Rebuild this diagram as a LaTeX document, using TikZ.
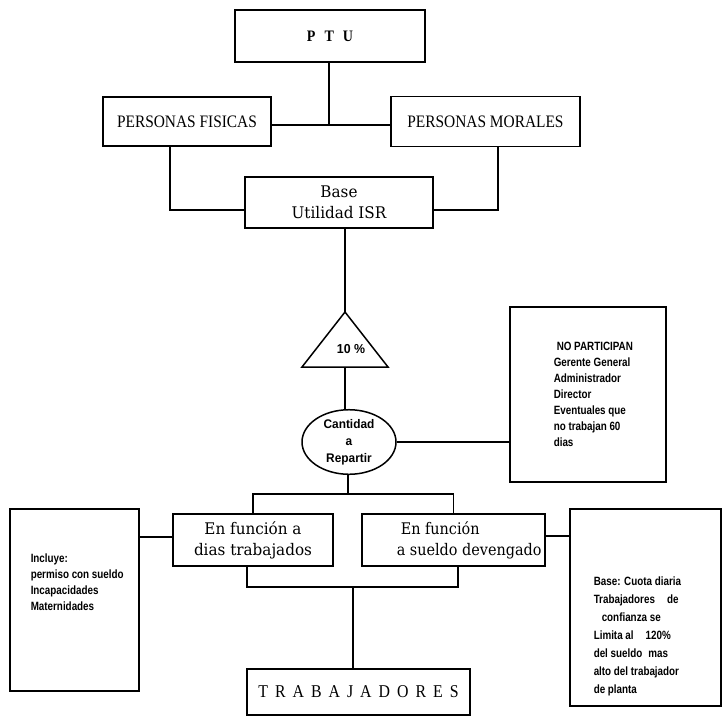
\documentclass[tikz,border=0pt]{standalone}
\usepackage{fontspec}
\setmainfont{Liberation Serif}
\newfontfamily\topf[FakeStretch=0.88]{Liberation Serif}
\newfontfamily\lowf[FakeStretch=0.95]{DejaVu Serif}
\newfontfamily\lowfn[FakeStretch=0.9]{DejaVu Serif}
\newfontfamily\smf[FakeStretch=0.82]{Liberation Sans}
\newfontfamily\elf[FakeStretch=0.95]{Liberation Sans}
\usetikzlibrary{shapes.geometric}
\begin{document}
\begin{tikzpicture}[x=1pt,y=-1pt,
  line width=1.5pt,
  box/.style={draw,rectangle,inner sep=0pt,align=center},
  small/.style={inner sep=0pt,align=left,anchor=north west,font=\smf\bfseries\fontsize{12}{16}\selectfont},
  smallb/.style={small,font=\smf\bfseries\fontsize{12}{18}\selectfont}]
\useasboundingbox (0,0) rectangle (722,718);
% top boxes
\node[box,minimum width=190pt,minimum height=52pt,font=\topf\bfseries\fontsize{16}{18}\selectfont] (PTU) at (330,36) {P\hspace{9pt}T\hspace{9pt}U};
\node[box,minimum width=168pt,minimum height=49pt,font=\topf\fontsize{17.5}{19}\selectfont] (PF) at (187,121.5) {PERSONAS FISICAS};
\node[box,minimum width=189pt,minimum height=50pt,font=\topf\fontsize{17.5}{19}\selectfont] (PM) at (485.5,121.5) {PERSONAS MORALES};
\node[box,minimum width=188pt,minimum height=51pt,font=\lowf\fontsize{16}{21}\selectfont] (Base) at (339,202.5) {Base\\Utilidad ISR};
% triangle
\coordinate (tA) at (345,312);
\coordinate (tL) at (302,367);
\coordinate (tR) at (388,367);
\coordinate (tB) at (345,367);
\draw (tA) -- (tL) -- (tR) -- cycle;
\node[font=\elf\bfseries\fontsize{13}{15}\selectfont,inner sep=0pt] (pct) at (351,349) {10 \%};
% ellipse
\node[draw,ellipse,minimum width=94pt,minimum height=58pt,inner sep=0pt,align=center,font=\elf\bfseries\fontsize{12.5}{17}\selectfont] (Cant) at (349,442) {Cantidad\\a\\Repartir};
% no participan
\node[box,minimum width=156pt,minimum height=175pt] (NOP) at (588,394.5) {};
\node[small] (NOPt) at (553,341) {\hspace{3pt}NO PARTICIPAN\\Gerente General\\Administrador\\Director\\Eventuales que\\no trabajan 60\\dias};
% lower boxes
\node[box,minimum width=160pt,minimum height=52pt,font=\lowf\fontsize{16}{21}\selectfont] (LF) at (253,540) {En función a\\dias trabajados};
\node[box,minimum width=183pt,minimum height=52pt] (RF) at (453.5,540) {};
\node[inner sep=0pt,anchor=west,align=left,font=\lowfn\fontsize{16}{21}\selectfont] (RFt) at (396,540) {\hspace{4pt}En función\\a sueldo devengado};
\node[box,minimum width=129pt,minimum height=182pt] (Inc) at (74.5,600) {};
\node[small] (Inct) at (30,553) {Incluye:\\permiso con sueldo\\Incapacidades\\Maternidades};
\node[box,minimum width=151pt,minimum height=197pt] (Bas) at (645.5,607.5) {};
\node[smallb] (Bast) at (593,576) {Base: Cuota diaria\\Trabajadores\hspace{12pt}de\\\hspace{8pt}confianza se\\Limita al\hspace{12pt}120\%\\del sueldo\hspace{6pt}mas\\alto del trabajador\\de planta};
\node[box,minimum width=223pt,minimum height=46pt,font=\topf\fontsize{18}{20}\selectfont] (TRAB) at (358.5,692) {T\hspace{7pt}R\hspace{7pt}A\hspace{7pt}B\hspace{7pt}A\hspace{7pt}J\hspace{7pt}A\hspace{7pt}D\hspace{7pt}O\hspace{7pt}R\hspace{7pt}E\hspace{7pt}S};
% connectors top
\coordinate (j1) at (329,125);
\coordinate (xPF) at (170,0);
\coordinate (xPM) at (498,0);
\coordinate (yB) at (0,210);
\draw (PTU.south -| j1) -- (j1);
\draw (PF.east |- j1) -- (PM.west |- j1);
\draw (PF.south -| xPF) |- (Base.west |- yB);
\draw (PM.south -| xPM) |- (Base.east |- yB);
\draw (Base.south -| tA) -- (tA);
\draw (tB) -- (tB |- Cant.north);
\draw (Cant.east) -- (Cant.east -| NOP.west);
% connectors lower
\coordinate (jt) at (348,494);
\coordinate (jb) at (353,587);
\coordinate (xl) at (247,0);
\coordinate (xr) at (458,0);
\coordinate (yl) at (0,537);
\coordinate (yr) at (0,536);
\draw (Cant.south -| jt) -- (jt);
\draw (LF.north) |- (jt) -| (RF.north);
\draw (LF.south -| xl) |- (jb) -| (RF.south -| xr);
\draw (jb) -- (TRAB.north -| jb);
\draw (Inc.east |- yl) -- (LF.west |- yl);
\draw (RF.east |- yr) -- (Bas.west |- yr);
\end{tikzpicture}
\end{document}
